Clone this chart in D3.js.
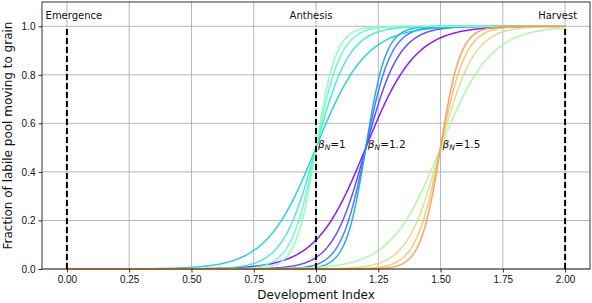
<!DOCTYPE html>
<html>
<head>
<meta charset="utf-8">
<script src="https://cdn.jsdelivr.net/npm/d3@7"></script>
<style>
  body { margin: 0; background: #fff; }
  svg { font-family: "DejaVu Sans", sans-serif; }
  .grid line { stroke: #b0b0b0; stroke-width: 0.9; }
  .axis path { display: none; }
  .axis line { stroke: #000; stroke-width: 0.8; }
  .axis text { font-size: 10px; fill: #111; }
</style>
</head>
<body>
<div id="vis"></div>
<script>
// curve parameters: y = 1 / (1 + exp(-k (x - beta)))
var betas = [1.2, 1.0, 1.5];          // beta_N per group
var slopes = [10, 15, 20, 25];        // steepness within each group
var stages = ["Emergence", "Anthesis", "Harvest"];
var stageX = [0, 1, 2];
var xTicks = [0, 0.25, 0.5, 0.75, 1, 1.25, 1.5, 1.75, 2];
var yTicks = [0, 0.2, 0.4, 0.6, 0.8, 1.0];

// rainbow colours, one per curve
var colors = ["#8000ff", "#5a3afd", "#3571f8", "#10a2f0",
              "#15cae5", "#3ae8d6", "#5ffac5", "#84ffb2",
              "#a9f79c", "#cee184", "#f3c16a", "#ff964f"];

var W = 592, H = 303;
var margin = {top: 2, right: 2, bottom: 34, left: 42};
var width = W - margin.left - margin.right,
    height = H - margin.top - margin.bottom;

var svg = d3.select("#vis").append("svg")
    .attr("width", W)
    .attr("height", H);

var g = svg.append("g")
    .attr("transform", "translate(" + margin.left + "," + margin.top + ")");

var x = d3.scaleLinear().domain([-0.1, 2.1]).range([0, width]);
var y = d3.scaleLinear().domain([0, 1.1]).range([height, 0]);

// grid
g.append("g").attr("class", "grid")
  .selectAll("line.v").data(xTicks).enter().append("line")
    .attr("x1", function(d) { return x(d); }).attr("x2", function(d) { return x(d); })
    .attr("y1", 0).attr("y2", height);
g.select(".grid")
  .selectAll("line.h").data(yTicks).enter().append("line")
    .attr("y1", function(d) { return y(d); }).attr("y2", function(d) { return y(d); })
    .attr("x1", 0).attr("x2", width);

// curves
var xs = d3.range(0, 2.0001, 0.005);
var line = d3.line()
    .x(function(d) { return x(d[0]); })
    .y(function(d) { return y(d[1]); });

var curves = [];
betas.forEach(function(b, gi) {
  slopes.forEach(function(k, si) {
    curves.push({
      color: colors[gi * slopes.length + si],
      pts: xs.map(function(v) { return [v, 1 / (1 + Math.exp(-k * (v - b)))]; })
    });
  });
});

g.append("g").selectAll("path").data(curves).enter().append("path")
    .attr("d", function(d) { return line(d.pts); })
    .attr("fill", "none")
    .attr("stroke", function(d) { return d.color; })
    .attr("stroke-width", 1.5)
    .attr("stroke-opacity", 0.9);

// stage markers
g.append("g").selectAll("line").data(stageX).enter().append("line")
    .attr("x1", function(d) { return x(d); }).attr("x2", function(d) { return x(d); })
    .attr("y1", y(0)).attr("y2", y(1))
    .attr("stroke", "#000")
    .attr("stroke-width", 2)
    .attr("stroke-dasharray", "6,3");

var stageShift = [0.028, -0.02, -0.03];
g.append("g").selectAll("text").data(stages).enter().append("text")
    .attr("x", function(d, i) { return x(stageX[i] + stageShift[i]); })
    .attr("y", y(1.03))
    .attr("text-anchor", "middle")
    .attr("font-size", 10)
    .attr("fill", "#111")
    .text(function(d) { return d; });

// beta labels
var bl = g.append("g").selectAll("text").data(betas).enter().append("text")
    .attr("x", function(d) { return x(d + 0.008); })
    .attr("y", y(0.5))
    .attr("font-size", 10.5)
    .attr("fill", "#111");
bl.append("tspan").attr("font-style", "italic").text("\u03b2");
bl.append("tspan").attr("font-style", "italic").attr("font-size", 7.5).attr("dy", 2).text("N");
bl.append("tspan").attr("dy", -2).text(function(d) { return "=" + d; });

// axes
g.append("g").attr("class", "axis")
    .attr("transform", "translate(0," + height + ")")
    .call(d3.axisBottom(x).tickValues(xTicks).tickFormat(d3.format(".2f")).tickSize(3.5).tickPadding(3));

g.append("g").attr("class", "axis")
    .call(d3.axisLeft(y).tickValues(yTicks).tickFormat(d3.format(".1f")).tickSize(3.5).tickPadding(3));

// frame
g.append("rect")
    .attr("width", width).attr("height", height)
    .attr("fill", "none").attr("stroke", "#000").attr("stroke-width", 0.8);

// axis labels
svg.append("text")
    .attr("x", margin.left + width / 2)
    .attr("y", H - 4)
    .attr("text-anchor", "middle")
    .attr("font-size", 12)
    .attr("fill", "#111")
    .text("Development Index");

svg.append("text")
    .attr("transform", "translate(12," + (margin.top + height / 2) + ") rotate(-90)")
    .attr("text-anchor", "middle")
    .attr("font-size", 12)
    .attr("fill", "#111")
    .text("Fraction of labile pool moving to grain");
</script>
</body>
</html>
